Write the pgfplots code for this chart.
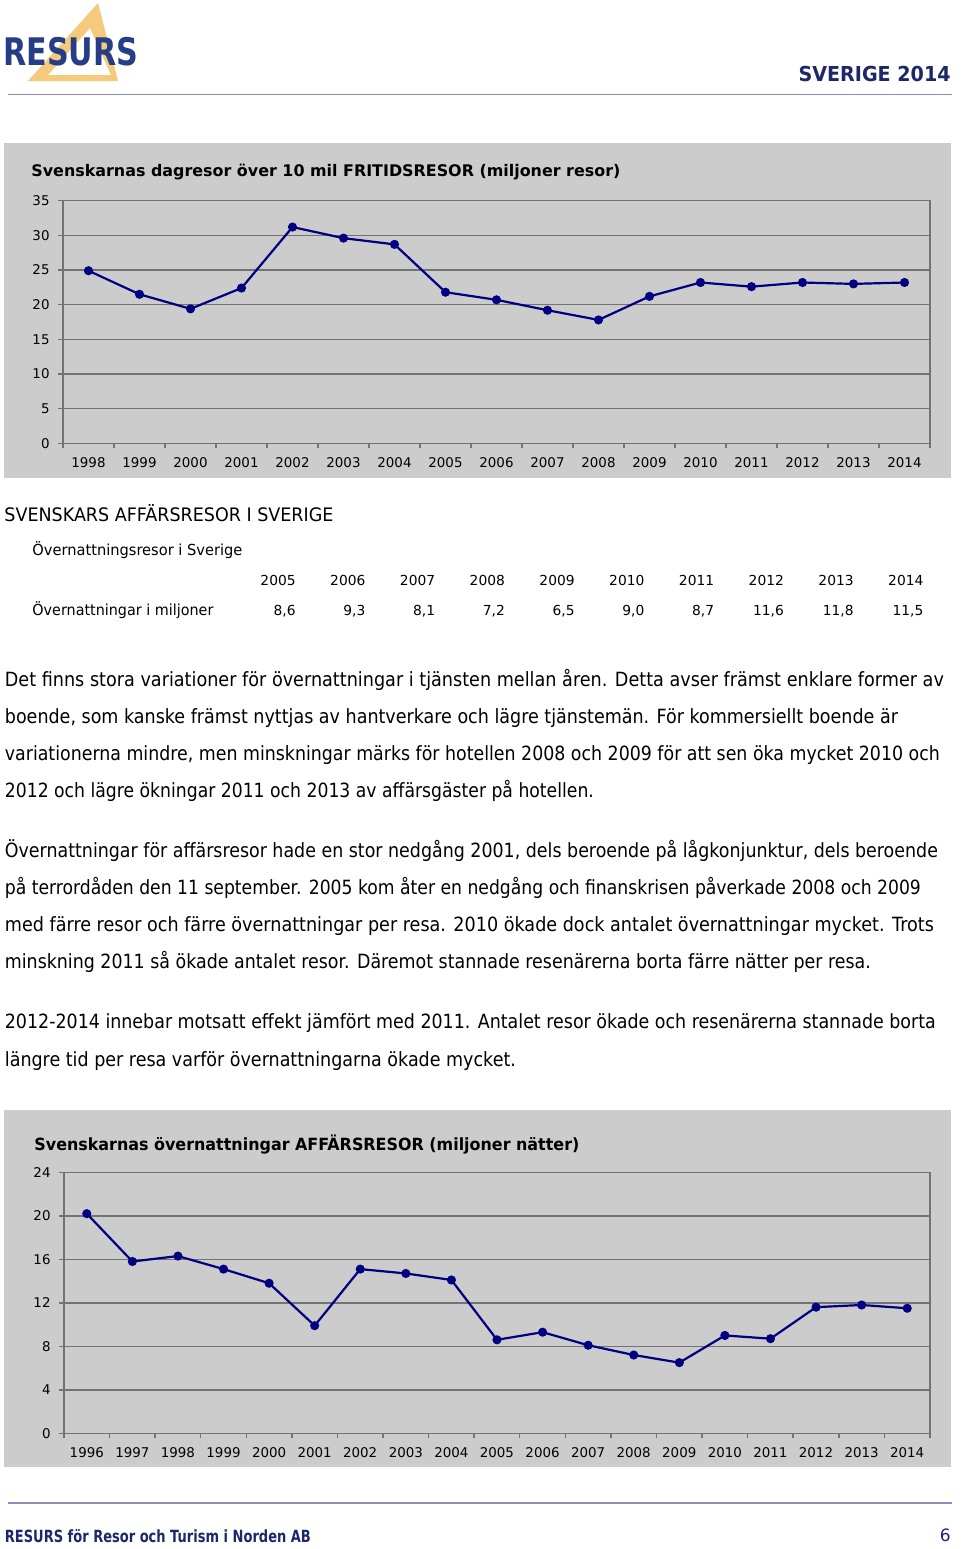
\documentclass[border=0pt]{standalone}
\usepackage{pgfplots}
\pgfplotsset{compat=1.18}
\usepackage{fontspec}
\setmainfont{DejaVu Sans}
\usepackage{graphicx}
\definecolor{boxgray}{RGB}{204,204,204}
\definecolor{gridgray}{RGB}{115,115,115}
\definecolor{navyline}{RGB}{0,0,128}
\definecolor{headblue}{RGB}{28,40,105}
\definecolor{logoblue}{RGB}{38,62,135}
\definecolor{logotri}{RGB}{245,202,125}
\definecolor{rulecol}{RGB}{140,142,185}
\newcommand{\fs}[1]{\fontsize{#1}{#1}\selectfont}
\newcommand{\rw}[2]{\resizebox{#1}{\height}{#2}}

\pgfplotstableread{
year val
1998 24.9
1999 21.5
2000 19.4
2001 22.4
2002 31.2
2003 29.6
2004 28.7
2005 21.8
2006 20.7
2007 19.2
2008 17.8
2009 21.2
2010 23.2
2011 22.6
2012 23.2
2013 23.0
2014 23.2
}\fritid

\pgfplotstableread{
year val
1996 20.2
1997 15.8
1998 16.3
1999 15.1
2000 13.8
2001 9.9
2002 15.1
2003 14.7
2004 14.1
2005 8.6
2006 9.3
2007 8.1
2008 7.2
2009 6.5
2010 9.0
2011 8.7
2012 11.6
2013 11.8
2014 11.5
}\affar

\pgfplotsset{
  resstyle/.style={
    scale only axis,
    axis line style={draw=gridgray,line width=0.75pt},
    ymajorgrids,
    grid style={draw=gridgray,line width=0.75pt},
    tick align=outside,
    xtick pos=bottom, ytick pos=left,
    major tick length=2.5pt,
    tick style={draw=gridgray,line width=0.75pt},
    ticklabel style={font=\fs{6.7pt}, text=black},
    /pgf/number format/assume math mode=true,
    x tick label as interval,
    yticklabel shift=0.7pt,
    xticklabel shift=1.3pt,
  },
  resline/.style={navyline, line width=1.1pt, mark=*, mark size=1.7pt,
    mark options={fill=navyline, draw=navyline}},
}

\begin{document}
\begin{tikzpicture}[x=0.5pt,y=-0.5pt]
% page
\fill[white] (0,0) rectangle (960,1549);
% logo
\fill[logotri, even odd rule] (98,3)--(118,81)--(28,81)--cycle (90,28)--(111,75)--(48,75)--cycle;
\node[anchor=base west, inner sep=0, text=logoblue, font=\fs{19pt}\bfseries] at (3,65) {\rw{67.5pt}{RESURS}};
\node[anchor=base east, inner sep=0, text=headblue, font=\fs{10.3pt}\bfseries] at (951,81.7) {\rw{76pt}{SVERIGE 2014}};
\draw[rulecol, line width=0.8pt] (8,94.5)--(952,94.5);

% chart 1 box
\fill[boxgray] (4,143) rectangle (951,478);
\node[anchor=base west, inner sep=0, font=\fs{8pt}\bfseries] at (31,176.7) {\rw{294.5pt}{Svenskarnas dagresor över 10 mil FRITIDSRESOR (miljoner resor)}};

% section
\node[anchor=base west, inner sep=0, font=\fs{9.3pt}] at (4,521.5) {\rw{164.5pt}{SVENSKARS AFFÄRSRESOR I SVERIGE}};
\node[anchor=base west, inner sep=0, font=\fs{7.6pt}] at (32,555.5) {\rw{105pt}{Övernattningsresor i Sverige}};
\node[anchor=base west, inner sep=0, font=\fs{7.6pt}] at (32,615) {\rw{90.5pt}{Övernattningar i miljoner}};
\foreach \yr/\v [count=\i from 0] in {2005/{8,6},2006/{9,3},2007/{8,1},2008/{7,2},2009/{6,5},2010/{9,0},2011/{8,7},2012/{11,6},2013/{11,8},2014/{11,5}}{
  \node[anchor=base east, inner sep=0, font=\fs{6.9pt}] at (296+69.75*\i,585.5) {\yr};
  \node[anchor=base east, inner sep=0, font=\fs{6.9pt}] at (296+69.75*\i,615) {\v};
}

% body text
\begin{scope}[every node/.style={anchor=base west, inner sep=0, font=\fs{9.8pt}}]
\node at (4.5,686) {\rw{469.5pt}{Det finns stora variationer för övernattningar i tjänsten mellan åren. Detta avser främst enklare former av}};
\node at (4.5,723.3) {\rw{446.5pt}{boende, som kanske främst nyttjas av hantverkare och lägre tjänstemän. För kommersiellt boende är}};
\node at (4.5,760.7) {\rw{467.5pt}{variationerna mindre, men minskningar märks för hotellen 2008 och 2009 för att sen öka mycket 2010 och}};
\node at (4.5,797.7) {\rw{294.5pt}{2012 och lägre ökningar 2011 och 2013 av affärsgäster på hotellen.}};
\node at (4.5,857) {\rw{466.5pt}{Övernattningar för affärsresor hade en stor nedgång 2001, dels beroende på lågkonjunktur, dels beroende}};
\node at (4.5,894.3) {\rw{458pt}{på terrordåden den 11 september. 2005 kom åter en nedgång och finanskrisen påverkade 2008 och 2009}};
\node at (4.5,931.7) {\rw{464.5pt}{med färre resor och färre övernattningar per resa. 2010 ökade dock antalet övernattningar mycket. Trots}};
\node at (4.5,968.7) {\rw{433pt}{minskning 2011 så ökade antalet resor. Däremot stannade resenärerna borta färre nätter per resa.}};
\node at (4.5,1028.5) {\rw{465.5pt}{2012-2014 innebar motsatt effekt jämfört med 2011. Antalet resor ökade och resenärerna stannade borta}};
\node at (4.5,1066) {\rw{255.5pt}{längre tid per resa varför övernattningarna ökade mycket.}};
\end{scope}

% chart 2 box
\fill[boxgray] (4,1110) rectangle (951,1467);
\node[anchor=base west, inner sep=0, font=\fs{8.4pt}\bfseries] at (34,1150.7) {\rw{272.5pt}{Svenskarnas övernattningar AFFÄRSRESOR (miljoner nätter)}};

% footer
\draw[rulecol, line width=0.8pt] (8,1502.7)--(952,1502.7);
\node[anchor=base west, inner sep=0, text=headblue, font=\fs{8.4pt}\bfseries] at (4.5,1542.3) {\rw{153pt}{RESURS för Resor och Turism i Norden AB}};
\node[anchor=base east, inner sep=0, text=headblue, font=\fs{8.5pt}] at (951,1541.7) {6};

% axis 1
\begin{axis}[resstyle,
  at={(31.5pt,-221.65pt)}, anchor=south west,
  width=433.5pt, height=121.3pt,
  xmin=1997.5, xmax=2014.5, ymin=0, ymax=35,
  ytick={0,5,...,35},
  xtick={1997.5,1998.5,...,2014.5},
  xticklabels={1998,1999,2000,2001,2002,2003,2004,2005,2006,2007,2008,2009,2010,2011,2012,2013,2014},
]
\addplot[resline] table[x=year,y=val] {\fritid};
\end{axis}

% axis 2
\begin{axis}[resstyle,
  at={(32pt,-716.65pt)}, anchor=south west,
  width=433pt, height=130.5pt,
  xmin=1995.5, xmax=2014.5, ymin=0, ymax=24,
  ytick={0,4,...,24},
  xtick={1995.5,1996.5,...,2014.5},
  xticklabels={1996,1997,1998,1999,2000,2001,2002,2003,2004,2005,2006,2007,2008,2009,2010,2011,2012,2013,2014},
]
\addplot[resline] table[x=year,y=val] {\affar};
\end{axis}
\end{tikzpicture}
\end{document}
